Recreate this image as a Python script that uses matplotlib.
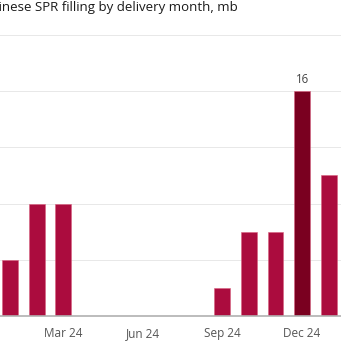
import numpy as np
import matplotlib.pyplot as plt

# dados: enchimento da SPR chinesa por mes de entrega (mb)
months = ['Dec 23', 'Jan 24', 'Feb 24', 'Mar 24', 'Apr 24', 'May 24', 'Jun 24',
          'Jul 24', 'Aug 24', 'Sep 24', 'Oct 24', 'Nov 24', 'Dec 24', 'Jan 25']
values = [0, 4, 8, 8, 0, 0, 0, 0, 0, 2, 6, 6, 16, 10]
highlight = 'Dec 24'
tick_months = ['Dec 23', 'Mar 24', 'Jun 24', 'Sep 24', 'Dec 24']

plt.rcParams['font.family'] = ['Open Sans', 'DejaVu Sans']

fig = plt.figure(figsize=(3.41, 3.41), dpi=100)
W = 341.0
# eixo: base em y=25px, topo (20) em y=306px
ax = fig.add_axes([0, 25 / W, 1, 281 / W])

x = np.arange(len(months)) - 1
colors = ['#7a0020' if m == highlight else '#ab0c3e' for m in months]
ax.bar(x, values, width=0.6, color=colors, edgecolor='#d9607f', linewidth=0.4, zorder=3)

for xi, m, v in zip(x, months, values):
    if m == highlight:
        ax.text(xi, v + 0.4, str(v), ha='center', va='bottom', fontsize=8.3,
                color='#444444', clip_on=False)

ax.set_xticks([x[months.index(m)] for m in tick_months])
ax.set_xticklabels(tick_months, fontsize=8.5, color='#555555')
ax.set_xlim(-10 / 26.55, (W - 10) / 26.55)
ax.set_ylim(0, 20)
ax.set_yticks([4, 8, 12, 16, 20])
ax.yaxis.grid(True, color='#e8e8e8', linewidth=0.7, zorder=0)
ax.tick_params(axis='y', left=False, labelleft=False)
ax.tick_params(axis='x', length=0, pad=8)
for s in ['top', 'left', 'right']:
    ax.spines[s].set_visible(False)
ax.spines['bottom'].set_color('#b0b0b0')
ax.spines['bottom'].set_linewidth(1.2)
ax.spines['bottom'].set_zorder(4)

fig.text(238 / W, 1 - 11 / W, 'Chinese SPR filling by delivery month, mb',
         ha='right', va='baseline', fontsize=9.5, color='#1a1a1a')

fig.savefig('out.png', dpi=100)
